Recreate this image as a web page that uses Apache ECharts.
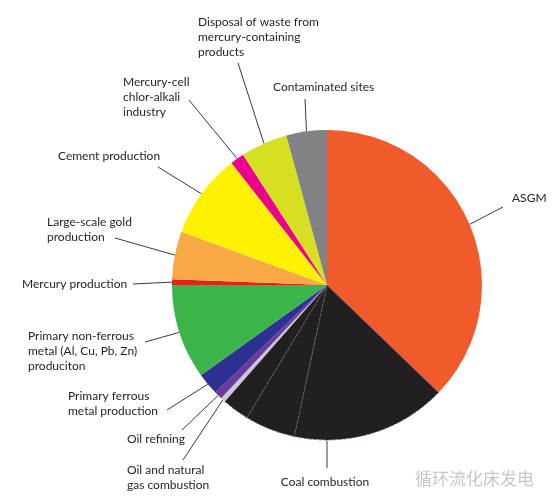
<!DOCTYPE html>
<html>
<head>
<meta charset="utf-8">
<script src="https://cdn.jsdelivr.net/npm/echarts@6/dist/echarts.min.js"></script>
<style>
  html, body { margin: 0; padding: 0; background: #fff; }
  #chart { width: 560px; height: 501px; }
</style>
</head>
<body>
<div id="chart"></div>
<script>
  // global mercury emissions to air by sector (tonnes), clockwise from the top
  const sources = [
    'ASGM',
    'Coal combustion', 'Coal combustion', 'Coal combustion',
    'Oil and natural\ngas combustion',
    'Oil refining',
    'Primary ferrous\nmetal production',
    'Primary non-ferrous\nmetal (Al, Cu, Pb, Zn)\nproduciton',
    'Mercury production',
    'Large-scale gold\nproduction',
    'Cement production',
    'Mercury-cell\nchlor-alkali\nindustry',
    'Disposal of waste from\nmercury-containing\nproducts',
    'Contaminated sites'
  ]
  const emissions = [727, 316, 103, 55, 9.9, 16, 45.5, 193, 11.7, 97.3, 173, 28.4, 95.6, 82.5]
  const colors = ['#f15a2b', '#231f20', '#231f20', '#231f20', '#c9c7d3', '#6a3a9c', '#2e3192',
    '#3bb54a', '#d9261c', '#f8a844', '#fff200', '#ec008c', '#d7df23', '#808285']

  // where each label sits and where its leader line meets it
  const labelSpots = {
    0: { x: 512, y: 198, align: 'left', end: [503, 207] },
    1: { x: 325, y: 482, align: 'center', end: [327, 468] },
    4: { x: 127, y: 478, align: 'left', end: [183, 460] },
    5: { x: 127, y: 439, align: 'left', end: [182, 430] },
    6: { x: 68, y: 404, align: 'left', end: [167, 410] },
    7: { x: 28, y: 351, align: 'left', end: [145, 342] },
    8: { x: 22, y: 284, align: 'left', end: [133, 284] },
    9: { x: 47, y: 230, align: 'left', end: [115, 238] },
    10: { x: 58, y: 156, align: 'left', end: [158, 167] },
    11: { x: 123, y: 97, align: 'left', end: [189, 100] },
    12: { x: 198, y: 37, align: 'left', end: [238, 63] },
    13: { x: 273, y: 87, align: 'left', end: [305, 99] }
  }

  const pieData = sources.map(function (name, i) {
    const item = {
      name: name,
      value: emissions[i],
      itemStyle: { color: colors[i] }
    }
    if (i >= 1 && i <= 3) {
      item.itemStyle.borderColor = '#6b6767'
      item.itemStyle.borderWidth = 0.8
      item.itemStyle.borderType = [3, 2]
    }
    if (!labelSpots[i]) {
      item.label = { show: false }
      item.labelLine = { show: false }
    }
    return item
  })

  const chart = echarts.init(document.getElementById('chart'))
  chart.setOption({
    animation: false,
    series: [{
      type: 'pie',
      center: [327, 285],
      radius: 155,
      startAngle: 90,
      clockwise: true,
      avoidLabelOverlap: false,
      silent: true,
      data: pieData,
      label: {
        show: true,
        position: 'outside',
        formatter: '{b}',
        color: '#231f20',
        fontFamily: 'Lato',
        fontSize: 12,
        lineHeight: 15
      },
      labelLine: {
        show: true,
        length: 10,
        length2: 10,
        lineStyle: { color: '#3a3a3a', width: 1 }
      },
      labelLayout: function (p) {
        const s = labelSpots[p.dataIndex]
        if (!s) return {}
        let start = p.labelLinePoints ? p.labelLinePoints[0] : s.end
        if (p.dataIndex === 1) start = [s.end[0], p.rect.y + p.rect.height]
        const mid = [(start[0] + s.end[0]) / 2, (start[1] + s.end[1]) / 2]
        return {
          x: s.x,
          y: s.y,
          align: s.align,
          verticalAlign: 'middle',
          labelLinePoints: [start, mid, s.end]
        }
      }
    }],
    graphic: [{
      type: 'text',
      left: 415,
      top: 470,
      style: {
        text: '循环流化床发电',
        fill: '#c6c6c6',
        font: '17px "Noto Sans CJK SC"'
      }
    }]
  })
</script>
</body>
</html>
